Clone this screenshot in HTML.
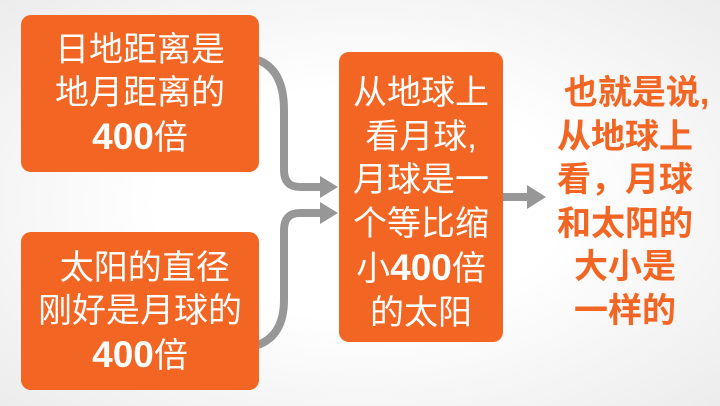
<!DOCTYPE html>
<html><head><meta charset="utf-8"><style>
html,body{margin:0;padding:0}
body{width:720px;height:406px;overflow:hidden;background:radial-gradient(ellipse at 50% 50%,#ffffff 40%,#ececec 100%);position:relative;font-family:"Liberation Sans","Noto Sans CJK SC",sans-serif}
.box{position:absolute;background:#f26522;border-radius:10px;color:#fff;text-align:center;font-size:34px;line-height:43px;white-space:nowrap}
.b{font-weight:bold;font-size:37px}
</style></head><body>
<svg width="720" height="406" style="position:absolute;left:0;top:0">
<g fill="none" stroke="#979797" stroke-width="8">
<path d="M258 60 Q284 70 284 110 L284 170 Q284 187 300 187 L322 187"/>
<path d="M258 345 Q284 335 284 300 L284 230 Q284 213 300 213 L322 213"/>
<path d="M500 197 L530 197"/>
</g>
<g fill="#979797">
<polygon points="320,176 338,187 320,198"/>
<polygon points="320,202 338,213 320,224"/>
<polygon points="527,185 546,197 527,209"/>
</g>
</svg>
<div class="box" style="left:21px;top:15px;width:238px;height:157px;padding-top:14px;box-sizing:border-box">日地距离是<br>地月距离的<br><span class="b">400</span>倍</div>
<div class="box" style="left:21px;top:232px;width:238px;height:158px;padding-top:15px;box-sizing:border-box">&nbsp;太阳的直径<br>刚好是月球的<br><span class="b">400</span>倍</div>
<div class="box" style="left:339px;top:52px;width:164px;height:290px;padding-top:20px;box-sizing:border-box;line-height:43.5px">从地球上<br>看月球,<br>月球是一<br>个等比缩<br>小<span class="b">400</span>倍<br>的太阳</div>
<div style="position:absolute;left:545px;top:72px;width:160px;text-align:center;color:#f26522;font-weight:bold;font-size:34px;line-height:43.5px;white-space:nowrap">&nbsp;&nbsp;也就是说,<br>从地球上<br>看，月球<br>和太阳的<br>大小是<br>一样的</div>
</body></html>
